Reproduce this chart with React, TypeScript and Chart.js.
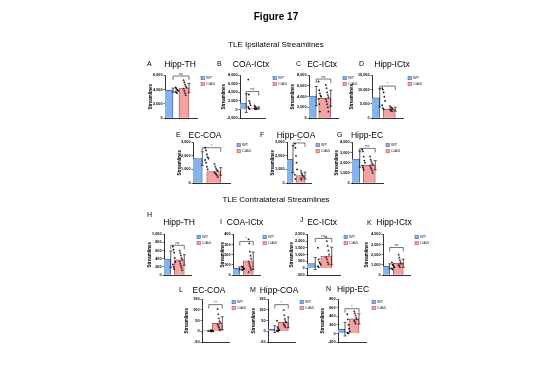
import { useEffect, useRef } from "react";
import { Chart, registerables } from "chart.js";
Chart.register(...registerables);

const FONT = '"Liberation Sans", Arial, sans-serif';
const groups = ["WT", "Cdk5"];
const FILLS = ["#86B3EA", "#F3A3A3"];
const BORDERS = ["#2F5D9E", "#B84545"];

// ---- TLE Ipsilateral ----
// A Hipp-TH
const aWT = [4300, 4150, 4000, 3900, 3800, 3700, 3600, 3500];
const aCdk5 = [5300, 5000, 4700, 4500, 4300, 4100, 3800, 3500, 3200];
const aMeans = [3900, 4200];
const aSD = [300, 650];
const aRange = [0, 6000, 2000];
// B COA-ICtx
const bWT = [7000, 3500, 2000, 1500, 1000, 600, 300, 100];
const bCdk5 = [900, 650, 500, 400, 300, 200, 120, 60, 0];
const bMeans = [1500, 350];
const bSD = [2200, 250];
const bRange = [-2000, 8000, 2000];
// C EC-ICtx
const cWT = [6800, 5200, 4600, 4200, 4000, 3600, 2600, 1200];
const cCdk5 = [6200, 5600, 4800, 4300, 3900, 3500, 3100, 2600, 2000, 1200];
const cMeans = [4100, 3700];
const cSD = [1800, 1500];
const cRange = [0, 8000, 2000];
// D Hipp-ICtx
const dWT = [10500, 10000, 9000, 7500, 6000, 4500, 3500, 3000];
const dCdk5 = [4200, 3800, 3600, 3400, 3200, 3000, 2800, 2500, 2300];
const dMeans = [7100, 3100];
const dSD = [3200, 700];
const dRange = [0, 15000, 5000];
// E EC-COA
const eWT = [2600, 2400, 2100, 1900, 1800, 1700, 1500, 1200, 1000];
const eCdk5 = [1400, 1200, 1050, 950, 900, 800, 700, 650, 550, 450];
const eMeans = [1800, 850];
const eSD = [500, 280];
const eRange = [0, 3000, 1000];
// F Hipp-COA
const fWT = [2900, 2600, 2000, 1500, 1000, 600, 300];
const fCdk5 = [900, 750, 650, 550, 450, 350, 250];
const fMeans = [1750, 550];
const fSD = [1000, 250];
const fRange = [0, 3000, 1000];
// G Hipp-EC
const gWT = [3300, 3100, 2600, 2200, 2000, 1700, 1500, 1300];
const gCdk5 = [2600, 2300, 2100, 1900, 1800, 1700, 1500, 1400, 1200, 1000];
const gMeans = [2350, 1750];
const gSD = [800, 450];
const gRange = [0, 4000, 1000];

// ---- TLE Contralateral ----
// H Hipp-TH
const hWT = [700, 620, 550, 420, 320, 260, 200, 150];
const hCdk5 = [600, 540, 480, 420, 380, 330, 280, 230, 180, 120];
const hMeans = [390, 370];
const hSD = [200, 130];
const hRange = [0, 1000, 200];
// I COA-ICtx
const iWT = [85, 78, 72, 66, 60, 55, 50];
const iCdk5 = [350, 310, 230, 190, 160, 130, 110, 90, 70, 50, 30];
const iMeans = [65, 140];
const iSD = [15, 85];
const iRange = [0, 400, 100];
// J EC-ICtx
const jWT = [1500, 650, 450, 350, 250, 150, 80];
const jCdk5 = [2300, 2000, 1650, 1300, 1000, 800, 650, 450, 300];
const jMeans = [350, 900];
const jSD = [450, 650];
const jRange = [-500, 2500, 500];
// K Hipp-ICtx
const kWT = [1250, 1050, 950, 850, 750, 650, 550];
const kCdk5 = [2000, 1700, 1450, 1250, 1100, 1000, 900, 750];
const kMeans = [850, 1150];
const kSD = [250, 400];
const kRange = [0, 4000, 1000];
// L EC-COA
const lWT = [6, 4, 3, 2, 1, 0, 0, 0];
const lCdk5 = [105, 80, 60, 48, 40, 32, 25, 18, 10, 5];
const lMeans = [2, 38];
const lSD = [3, 30];
const lRange = [-50, 150, 50];
// M Hipp-COA
const mWT = [50, 20, 12, 8, 5, 3, 2, 0];
const mCdk5 = [100, 75, 58, 48, 42, 35, 30, 25, 20];
const mMeans = [10, 42];
const mSD = [16, 25];
const mRange = [-50, 150, 50];
// N Hipp-EC
const nWT = [450, 330, 200, 110, 50, 20, 10, 0];
const nCdk5 = [520, 470, 420, 370, 330, 300, 270, 230];
const nMeans = [100, 340];
const nSD = [160, 120];
const nRange = [-200, 800, 200];

const brackets = [5900, 4200, 7300, 11200, 2600, 2950, 3400, 730, 330, 2200, 2700, 125, 125, 580];
const sigLabels = ["ns", "ns", "ns", "*", "*", "***", "ns", "ns", "*", "ns", "ns", "**", "*", "*"];

type Box = { left: number; top: number; yW: number; plotW: number; plotH: number; gap: number; barW: number };
type Def = {
  letter: string; title: string;
  wt: number[]; cdk: number[]; means: number[]; sd: number[]; range: number[];
  bracket: number; sig: string;
  box: Box; letterPos: number[]; titlePos: number[];
};

const PAD_TOP = 4;
const X_H = 8;
const LEG_W = 18;

const defs: Def[] = [
  { letter: "A", title: "Hipp-TH", wt: aWT, cdk: aCdk5, means: aMeans, sd: aSD, range: aRange, bracket: brackets[0], sig: sigLabels[0],
    box: { left: 148, top: 71, yW: 17, plotW: 32, plotH: 43, gap: 4, barW: 10 }, letterPos: [147, 63], titlePos: [180, 64] },
  { letter: "B", title: "COA-ICtx", wt: bWT, cdk: bCdk5, means: bMeans, sd: bSD, range: bRange, bracket: brackets[1], sig: sigLabels[1],
    box: { left: 221, top: 71, yW: 19, plotW: 25, plotH: 43, gap: 8, barW: 10 }, letterPos: [217, 63], titlePos: [251, 64] },
  { letter: "C", title: "EC-ICtx", wt: cWT, cdk: cCdk5, means: cMeans, sd: cSD, range: cRange, bracket: brackets[2], sig: sigLabels[2],
    box: { left: 290, top: 71, yW: 19, plotW: 29, plotH: 43, gap: 5, barW: 12 }, letterPos: [296, 63], titlePos: [322, 64] },
  { letter: "D", title: "Hipp-ICtx", wt: dWT, cdk: dCdk5, means: dMeans, sd: dSD, range: dRange, bracket: brackets[3], sig: sigLabels[3],
    box: { left: 349, top: 71, yW: 23, plotW: 31, plotH: 43, gap: 5, barW: 12 }, letterPos: [359, 63], titlePos: [392, 64] },
  { letter: "E", title: "EC-COA", wt: eWT, cdk: eCdk5, means: eMeans, sd: eSD, range: eRange, bracket: brackets[4], sig: sigLabels[4],
    box: { left: 177, top: 138, yW: 16, plotW: 37, plotH: 41, gap: 7, barW: 14 }, letterPos: [176, 134], titlePos: [205, 135] },
  { letter: "F", title: "Hipp-COA", wt: fWT, cdk: fCdk5, means: fMeans, sd: fSD, range: fRange, bracket: brackets[5], sig: sigLabels[5],
    box: { left: 270, top: 138, yW: 17, plotW: 24, plotH: 41, gap: 5, barW: 9 }, letterPos: [260, 134], titlePos: [296, 135] },
  { letter: "G", title: "Hipp-EC", wt: gWT, cdk: gCdk5, means: gMeans, sd: gSD, range: gRange, bracket: brackets[6], sig: sigLabels[6],
    box: { left: 334, top: 138, yW: 18, plotW: 31, plotH: 41, gap: 3, barW: 12 }, letterPos: [337, 134], titlePos: [367, 135] },
  { letter: "H", title: "Hipp-TH", wt: hWT, cdk: hCdk5, means: hMeans, sd: hSD, range: hRange, bracket: brackets[7], sig: sigLabels[7],
    box: { left: 147, top: 230, yW: 17, plotW: 27, plotH: 41, gap: 6, barW: 10 }, letterPos: [147, 214], titlePos: [179, 222] },
  { letter: "I", title: "COA-ICtx", wt: iWT, cdk: iCdk5, means: iMeans, sd: iSD, range: iRange, bracket: brackets[8], sig: sigLabels[8],
    box: { left: 220, top: 230, yW: 13, plotW: 27, plotH: 41, gap: 3, barW: 10 }, letterPos: [220, 221], titlePos: [245, 222] },
  { letter: "J", title: "EC-ICtx", wt: jWT, cdk: jCdk5, means: jMeans, sd: jSD, range: jRange, bracket: brackets[9], sig: sigLabels[9],
    box: { left: 289, top: 230, yW: 18, plotW: 33, plotH: 41, gap: 4, barW: 11 }, letterPos: [300, 219], titlePos: [322, 222] },
  { letter: "K", title: "Hipp-ICtx", wt: kWT, cdk: kCdk5, means: kMeans, sd: kSD, range: kRange, bracket: brackets[10], sig: sigLabels[10],
    box: { left: 364, top: 230, yW: 19, plotW: 27, plotH: 41, gap: 5, barW: 10 }, letterPos: [367, 222], titlePos: [394, 222] },
  { letter: "L", title: "EC-COA", wt: lWT, cdk: lCdk5, means: lMeans, sd: lSD, range: lRange, bracket: brackets[11], sig: sigLabels[11],
    box: { left: 184, top: 295, yW: 18, plotW: 27, plotH: 43, gap: 3, barW: 10 }, letterPos: [179, 289], titlePos: [209, 290] },
  { letter: "M", title: "Hipp-COA", wt: mWT, cdk: mCdk5, means: mMeans, sd: mSD, range: mRange, bracket: brackets[12], sig: sigLabels[12],
    box: { left: 251, top: 295, yW: 17, plotW: 27, plotH: 43, gap: 5, barW: 10 }, letterPos: [250, 289], titlePos: [279, 290] },
  { letter: "N", title: "Hipp-EC", wt: nWT, cdk: nCdk5, means: nMeans, sd: nSD, range: nRange, bracket: brackets[13], sig: sigLabels[13],
    box: { left: 320, top: 295, yW: 18, plotW: 28, plotH: 43, gap: 6, barW: 10 }, letterPos: [326, 288], titlePos: [353, 289] },
];

const jit = (i: number) => ((i % 5) - 2) * 0.09;

function extras(d: Def) {
  return {
    id: "extras",
    afterDatasetsDraw(chart: any) {
      const { ctx, chartArea } = chart;
      const x = chart.scales.x;
      const y = chart.scales.y;
      ctx.save();
      ctx.strokeStyle = "#1a1a1a";
      ctx.lineWidth = 0.7;
      d.means.forEach((m, i) => {
        const cx = x.getPixelForValue(i);
        const yt = y.getPixelForValue(m + d.sd[i]);
        const yb = y.getPixelForValue(m - d.sd[i]);
        ctx.beginPath();
        ctx.moveTo(cx, yb);
        ctx.lineTo(cx, yt);
        ctx.moveTo(cx - 1.5, yt);
        ctx.lineTo(cx + 1.5, yt);
        ctx.moveTo(cx - 1.5, yb);
        ctx.lineTo(cx + 1.5, yb);
        ctx.stroke();
      });
      const by = y.getPixelForValue(d.bracket);
      const x0 = x.getPixelForValue(0);
      const x1 = x.getPixelForValue(1);
      ctx.lineWidth = 0.6;
      ctx.beginPath();
      ctx.moveTo(x0, by + 4);
      ctx.lineTo(x0, by);
      ctx.lineTo(x1, by);
      ctx.lineTo(x1, by + 4);
      ctx.stroke();
      ctx.fillStyle = "#111";
      ctx.font = `3.6px ${FONT}`;
      ctx.textAlign = "center";
      ctx.textBaseline = "bottom";
      ctx.fillText(d.sig, (x0 + x1) / 2, by - 0.3);
      const lx = chartArea.right + d.box.gap;
      [0, 1].forEach((i) => {
        const ly = chartArea.top + 1 + i * 6;
        ctx.fillStyle = FILLS[i];
        ctx.fillRect(lx, ly, 3.5, 3.5);
        ctx.strokeStyle = BORDERS[i];
        ctx.lineWidth = 0.5;
        ctx.strokeRect(lx, ly, 3.5, 3.5);
        ctx.fillStyle = "#111";
        ctx.textAlign = "left";
        ctx.textBaseline = "middle";
        ctx.font = `4px ${FONT}`;
        ctx.fillText(groups[i], lx + 5, ly + 1.9);
      });
      ctx.restore();
    },
  };
}

function Panel({ d }: { d: Def }) {
  const ref = useRef<HTMLCanvasElement>(null);
  const b = d.box;
  const w = b.yW + b.plotW + b.gap + LEG_W;
  const h = PAD_TOP + b.plotH + X_H;
  useEffect(() => {
    const canvas = ref.current;
    if (!canvas) return;
    const chart = new Chart(canvas, {
      type: "bar",
      data: {
        labels: groups,
        datasets: [
          {
            type: "bar",
            data: d.means,
            backgroundColor: FILLS,
            borderColor: BORDERS,
            borderWidth: 0.8,
            barThickness: b.barW,
            order: 3,
          } as any,
          {
            type: "scatter",
            xAxisID: "xs",
            data: d.wt.map((v, i) => ({ x: jit(i), y: v })),
            pointRadius: 0.9,
            pointBackgroundColor: "#111",
            pointBorderWidth: 0,
            order: 1,
          } as any,
          {
            type: "scatter",
            xAxisID: "xs",
            data: d.cdk.map((v, i) => ({ x: 1 + jit(i), y: v })),
            pointStyle: "triangle",
            pointRadius: 1.1,
            pointBackgroundColor: "#222",
            pointBorderColor: "#222",
            pointBorderWidth: 0.3,
            order: 2,
          } as any,
        ],
      },
      options: {
        responsive: false,
        animation: false,
        devicePixelRatio: 1,
        layout: { padding: { top: PAD_TOP, right: b.gap + LEG_W, left: 0, bottom: 0 } },
        plugins: { legend: { display: false }, tooltip: { enabled: false } },
        scales: {
          x: {
            type: "category",
            offset: true,
            grid: { display: false },
            border: { display: true, color: "#000", width: 0.8 },
            ticks: { color: "#000", font: { family: FONT, size: 4, weight: "bold" }, padding: 1, maxRotation: 0, autoSkip: false },
            afterFit: (s: any) => { s.height = X_H; },
          },
          xs: { type: "linear", display: false, min: -0.5, max: 1.5 },
          y: {
            min: d.range[0],
            max: d.range[1],
            border: { display: true, color: "#000", width: 0.8 },
            grid: { display: true, drawOnChartArea: false, drawTicks: true, tickLength: 1.5, color: "#000", lineWidth: 0.6 },
            ticks: {
              stepSize: d.range[2],
              autoSkip: false,
              color: "#000",
              padding: 1,
              font: { family: FONT, size: 3.8, weight: "bold" },
              callback: (v: any) => Number(v).toLocaleString("en-US"),
            },
            title: { display: true, text: "Streamlines", color: "#000", font: { family: FONT, size: 4.5, weight: "bold" }, padding: { top: 0, bottom: 1 } },
            afterFit: (s: any) => { s.width = b.yW; },
          },
        } as any,
      },
      plugins: [extras(d)],
    } as any);
    return () => chart.destroy();
  }, [d]);
  return (
    <canvas
      ref={ref}
      width={w}
      height={h}
      style={{ position: "absolute", left: b.left, top: b.top, width: w, height: h }}
    />
  );
}

const centered = (x: number, y: number, size: number, bold = false): any => ({
  position: "absolute",
  left: x - 60,
  width: 120,
  top: Math.round(y - size / 2),
  textAlign: "center",
  fontFamily: FONT,
  fontSize: size,
  fontWeight: bold ? "bold" : "normal",
  lineHeight: `${size}px`,
  whiteSpace: "nowrap",
  color: "#000",
  filter: "grayscale(1)",
});

const lefted = (x: number, y: number, size: number): any => ({
  position: "absolute",
  left: x,
  top: Math.round(y - size / 2),
  fontFamily: FONT,
  fontSize: size,
  lineHeight: `${size}px`,
  whiteSpace: "nowrap",
  color: "#000",
  filter: "grayscale(1)",
});

export default function App() {
  return (
    <div style={{ position: "fixed", left: 0, top: 0, width: 550, height: 388, background: "#fff", overflow: "hidden" }}>
      <div style={centered(276, 17, 10, true)}>Figure 17</div>
      <div style={centered(276, 45, 8)}>TLE Ipsilateral Streamlines</div>
      <div style={centered(276, 200, 8)}>TLE Contralateral Streamlines</div>
      {defs.map((d) => (
        <div key={"l" + d.letter + d.title}>
          <div style={lefted(d.letterPos[0], d.letterPos[1], 7)}>{d.letter}</div>
          <div style={centered(d.titlePos[0], d.titlePos[1], 8.5)}>{d.title}</div>
        </div>
      ))}
      {defs.map((d) => (
        <Panel key={"p" + d.letter} d={d} />
      ))}
    </div>
  );
}
